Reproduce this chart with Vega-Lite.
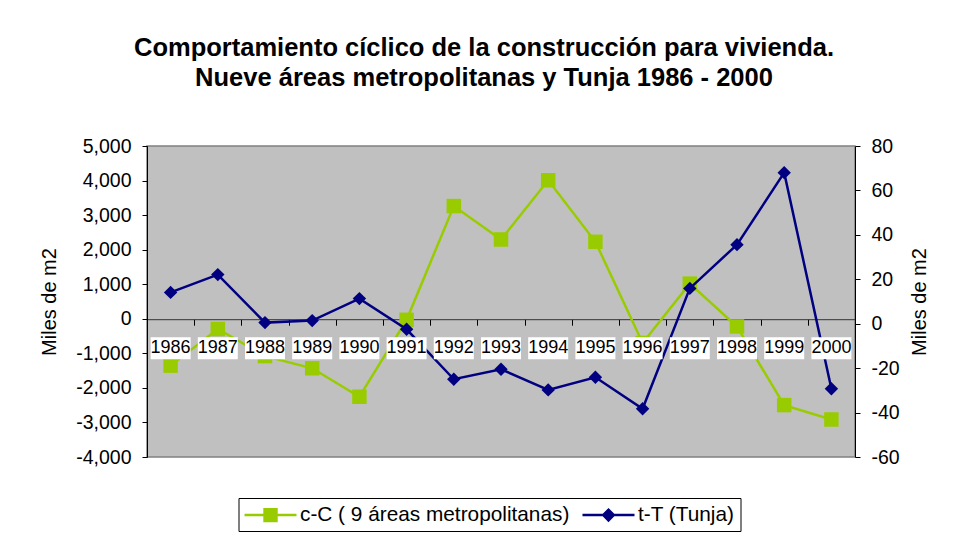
{
  "$schema": "https://vega.github.io/schema/vega-lite/v6.json",
  "width": 708,
  "height": 311,
  "autosize": {"type": "none"},
  "padding": {"left": 147, "top": 146, "right": 98, "bottom": 90},
  "background": "white",
  "title": {
    "text": ["Comportamiento cíclico de la construcción para vivienda.", "Nueve áreas metropolitanas y Tunja 1986 - 2000"],
    "font": "Liberation Sans",
    "fontSize": 25.5,
    "fontWeight": "bold",
    "color": "black",
    "anchor": "middle",
    "frame": "group",
    "dx": -17,
    "offset": 45,
    "lineHeight": 30
  },
  "config": {
    "font": "Liberation Sans",
    "view": {"fill": "#c0c0c0", "stroke": "#808080", "strokeWidth": 1.5},
    "axis": {
      "labelFont": "Liberation Sans",
      "labelFontSize": 19.5,
      "labelColor": "black",
      "titleFont": "Liberation Sans",
      "titleFontSize": 20,
      "titleFontWeight": "normal",
      "titleColor": "black",
      "domainColor": "black",
      "tickColor": "black",
      "grid": false
    }
  },
  "data": {
    "values": [
      {"year": "1986", "series": "c-C ( 9 áreas metropolitanas)", "value": -1356},
      {"year": "1987", "series": "c-C ( 9 áreas metropolitanas)", "value": -295},
      {"year": "1988", "series": "c-C ( 9 áreas metropolitanas)", "value": -1080},
      {"year": "1989", "series": "c-C ( 9 áreas metropolitanas)", "value": -1433},
      {"year": "1990", "series": "c-C ( 9 áreas metropolitanas)", "value": -2256},
      {"year": "1991", "series": "c-C ( 9 áreas metropolitanas)", "value": -30},
      {"year": "1992", "series": "c-C ( 9 áreas metropolitanas)", "value": 3262},
      {"year": "1993", "series": "c-C ( 9 áreas metropolitanas)", "value": 2295},
      {"year": "1994", "series": "c-C ( 9 áreas metropolitanas)", "value": 4008},
      {"year": "1995", "series": "c-C ( 9 áreas metropolitanas)", "value": 2228},
      {"year": "1996", "series": "c-C ( 9 áreas metropolitanas)", "value": -700},
      {"year": "1997", "series": "c-C ( 9 áreas metropolitanas)", "value": 1017},
      {"year": "1998", "series": "c-C ( 9 áreas metropolitanas)", "value": -223},
      {"year": "1999", "series": "c-C ( 9 áreas metropolitanas)", "value": -2498},
      {"year": "2000", "series": "c-C ( 9 áreas metropolitanas)", "value": -2914},
      {"year": "1986", "series": "t-T (Tunja)", "value": 14.1},
      {"year": "1987", "series": "t-T (Tunja)", "value": 22.1},
      {"year": "1988", "series": "t-T (Tunja)", "value": 0.5},
      {"year": "1989", "series": "t-T (Tunja)", "value": 1.4},
      {"year": "1990", "series": "t-T (Tunja)", "value": 11.3},
      {"year": "1991", "series": "t-T (Tunja)", "value": -2.5},
      {"year": "1992", "series": "t-T (Tunja)", "value": -25.0},
      {"year": "1993", "series": "t-T (Tunja)", "value": -20.5},
      {"year": "1994", "series": "t-T (Tunja)", "value": -29.8},
      {"year": "1995", "series": "t-T (Tunja)", "value": -24.1},
      {"year": "1996", "series": "t-T (Tunja)", "value": -38.3},
      {"year": "1997", "series": "t-T (Tunja)", "value": 15.9},
      {"year": "1998", "series": "t-T (Tunja)", "value": 35.6},
      {"year": "1999", "series": "t-T (Tunja)", "value": 68.0},
      {"year": "2000", "series": "t-T (Tunja)", "value": -29.3}
    ]
  },
  "layer": [
    {
      "transform": [{"filter": "datum.series === 'c-C ( 9 áreas metropolitanas)'"}],
      "encoding": {
        "x": {"field": "year", "type": "ordinal", "scale": {"paddingInner": 0, "paddingOuter": 0},
              "axis": {"title": null, "labels": false, "offset": -137.8, "tickBand": "extent", "tickSize": 6, "domainColor": "#333333", "tickColor": "black"}},
        "y": {"field": "value", "type": "quantitative",
              "scale": {"domain": [-4000, 5000], "nice": false, "zero": false},
              "axis": {"title": "Miles de m2", "values": [-4000, -3000, -2000, -1000, 0, 1000, 2000, 3000, 4000, 5000],
                       "labelExpr": "replace(format(datum.value, ',d'), '\u2212', '-')",
                       "tickSize": 5, "labelPadding": 11, "titlePadding": 16}},
        "color": {"field": "series", "type": "nominal",
                  "scale": {"domain": ["c-C ( 9 áreas metropolitanas)", "t-T (Tunja)"], "range": ["#99cc00", "#000080"]},
                  "legend": {"orient": "none", "legendX": 91.5, "legendY": 352, "direction": "horizontal", "title": null,
                             "strokeColor": "black", "fillColor": "white", "padding": 6,
                             "labelFont": "Liberation Sans", "labelFontSize": 20.8, "labelColor": "black", "labelLimit": 500,
                             "symbolSize": 484, "labelOffset": 33.5, "columnPadding": 13, "symbolStrokeWidth": 0,
                             "encode": {"symbols": {"update": {
                               "shape": {"signal": "datum.value === 't-T (Tunja)' ? 'M-1,-0.114H3.727V0.114H-1ZM1.364,-0.64L2.004,0L1.364,0.64L0.724,0Z' : 'M-1,-0.114H3.727V0.114H-1ZM0.709,-0.655H2.019V0.655H0.709Z'"},
                               "fill": {"signal": "datum.value === 't-T (Tunja)' ? '#000080' : '#99cc00'"},
                               "stroke": {"value": "transparent"},
                               "opacity": {"value": 1}}}}}}
      },
      "layer": [
        {"mark": {"type": "line", "strokeWidth": 2.5}},
        {"mark": {"type": "point", "shape": "square", "filled": true, "opacity": 1, "size": 210}}
      ]
    },
    {
      "transform": [{"filter": "datum.series === 't-T (Tunja)'"}],
      "encoding": {
        "x": {"field": "year", "type": "ordinal", "scale": {"paddingInner": 0, "paddingOuter": 0},
              "axis": {"title": null, "labels": false, "offset": -137.8, "tickBand": "extent", "tickSize": 6, "domainColor": "#333333", "tickColor": "black"}},
        "y": {"field": "value", "type": "quantitative",
              "scale": {"domain": [-60, 80], "nice": false, "zero": false},
              "axis": {"orient": "right", "title": "Miles de m2", "values": [-60, -40, -20, 0, 20, 40, 60, 80],
                       "labelExpr": "replace(format(datum.value, 'd'), '\u2212', '-')",
                       "tickSize": 5, "labelPadding": 11, "titlePadding": 10, "titleAngle": 270, "titleBaseline": "top"}},
        "color": {"field": "series", "type": "nominal",
                  "scale": {"domain": ["c-C ( 9 áreas metropolitanas)", "t-T (Tunja)"], "range": ["#99cc00", "#000080"]},
                  "legend": {"orient": "none", "legendX": 91.5, "legendY": 352, "direction": "horizontal", "title": null,
                             "strokeColor": "black", "fillColor": "white", "padding": 6,
                             "labelFont": "Liberation Sans", "labelFontSize": 20.8, "labelColor": "black", "labelLimit": 500,
                             "symbolSize": 484, "labelOffset": 33.5, "columnPadding": 13, "symbolStrokeWidth": 0,
                             "encode": {"symbols": {"update": {
                               "shape": {"signal": "datum.value === 't-T (Tunja)' ? 'M-1,-0.114H3.727V0.114H-1ZM1.364,-0.64L2.004,0L1.364,0.64L0.724,0Z' : 'M-1,-0.114H3.727V0.114H-1ZM0.709,-0.655H2.019V0.655H0.709Z'"},
                               "fill": {"signal": "datum.value === 't-T (Tunja)' ? '#000080' : '#99cc00'"},
                               "stroke": {"value": "transparent"},
                               "opacity": {"value": 1}}}}}}
      },
      "layer": [
        {"mark": {"type": "line", "strokeWidth": 2.5}},
        {"mark": {"type": "point", "shape": "diamond", "filled": true, "opacity": 1, "size": 180}}
      ]
    },
    {
      "transform": [{"filter": "datum.series === 'c-C ( 9 áreas metropolitanas)'"}],
      "encoding": {
        "x": {"field": "year", "type": "ordinal", "scale": {"paddingInner": 0, "paddingOuter": 0},
              "axis": {"title": null, "labels": false, "offset": -137.8, "tickBand": "extent", "tickSize": 6, "domainColor": "#333333", "tickColor": "black"}}
      },
      "layer": [
        {"mark": {"type": "bar", "color": "white", "size": 40},
         "encoding": {
           "y": {"datum": -535, "type": "quantitative", "scale": {"domain": [-4000, 5000], "nice": false, "zero": false}, "axis": null},
           "y2": {"datum": -1172}}},
        {"mark": {"type": "text", "font": "Liberation Sans", "fontSize": 18, "color": "black", "baseline": "middle"},
         "encoding": {
           "y": {"datum": -854, "type": "quantitative", "scale": {"domain": [-4000, 5000], "nice": false, "zero": false}, "axis": null},
           "text": {"field": "year"}}}
      ]
    }
  ],
  "resolve": {"scale": {"y": "independent"}}
}
